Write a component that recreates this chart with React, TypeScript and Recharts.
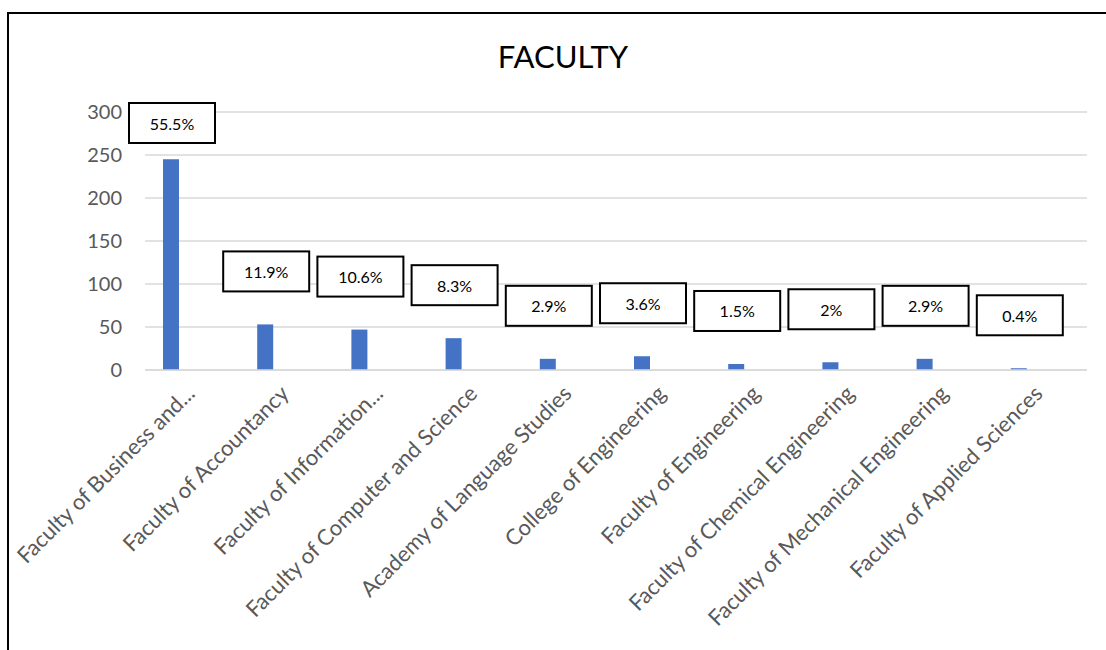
import React from 'react';
import { BarChart, Bar, XAxis, YAxis, CartesianGrid, LabelList } from 'recharts';

// Faculty names as shown on the axis (Excel truncated two of them)
const faculties = [
  'Faculty of Business and...',
  'Faculty of Accountancy',
  'Faculty of Information...',
  'Faculty of Computer and Science',
  'Academy of Language Studies',
  'College of Engineering',
  'Faculty of Engineering',
  'Faculty of Chemical Engineering',
  'Faculty of Mechanical Engineering',
  'Faculty of Applied Sciences',
];

// respondent counts
const counts = [245, 53, 47, 37, 13, 16, 7, 9, 13, 2];

// share labels printed in the boxes
const shares = ['55.5%', '11.9%', '10.6%', '8.3%', '2.9%', '3.6%', '1.5%', '2%', '2.9%', '0.4%'];

const yTicks = [0, 50, 100, 150, 200, 250, 300];

const data = faculties.map((name, i) => ({ name, count: counts[i], share: shares[i] }));

const PLOT_TOP = 112;
const FONT = 'Lato, "Open Sans", sans-serif';

// rotated category label, anchored at its end like Excel does
const AngledTick = (props: any) => {
  const { x, y, payload } = props;
  return (
    <g transform={`translate(${x + 25},${y + 17})`}>
      <text
        transform="rotate(-45)"
        textAnchor="end"
        fill="#595959"
        fontSize={22}
        fontFamily={FONT}
      >
        {payload.value}
      </text>
    </g>
  );
};

// boxed percentage sitting above each bar
const ShareBox = (props: any) => {
  const { x, y, width, value } = props;
  const w = 86;
  const h = 40;
  const cx = x + width / 2 + 1;
  const top = Math.max(PLOT_TOP - 9, y - 33 - h);
  return (
    <g>
      <rect x={cx - w / 2} y={top} width={w} height={h} fill="#fff" stroke="#000" strokeWidth={2} />
      <text
        x={cx}
        y={top + h / 2}
        textAnchor="middle"
        dominantBaseline="central"
        fontSize={16}
        fontFamily={FONT}
        fill="#000"
      >
        {value}
      </text>
    </g>
  );
};

export default function App() {
  return (
    <div style={{ position: 'fixed', left: 0, top: 0, width: 1106, height: 650, overflow: 'hidden', background: '#fff' }}>
      {/* chart frame, only left and top edges fall inside the picture */}
      <div
        style={{
          position: 'absolute',
          left: 7,
          top: 12,
          width: 1200,
          height: 800,
          border: '2px solid #000',
        }}
      />
      <div
        style={{
          position: 'absolute',
          left: 0,
          width: 1126,
          top: 37,
          textAlign: 'center',
          fontFamily: FONT,
          fontSize: 31,
          color: '#000',
        }}
      >
        FACULTY
      </div>
      <div style={{ position: 'absolute', left: 0, top: 0 }}>
        <BarChart
          width={1106}
          height={650}
          data={data}
          margin={{ top: PLOT_TOP, right: 19, bottom: 0, left: 0 }}
        >
          <CartesianGrid vertical={false} stroke="#d9d9d9" strokeWidth={1.5} />
          <XAxis
            dataKey="name"
            interval={0}
            tickLine={false}
            axisLine={{ stroke: '#d9d9d9', strokeWidth: 1.5 }}
            tick={<AngledTick />}
            height={280}
            padding={{ left: -21, right: 21 }}
          />
          <YAxis
            width={145}
            domain={[0, 300]}
            ticks={yTicks}
            axisLine={false}
            tickLine={false}
            tickSize={0}
            tickMargin={23}
            tick={{ fill: '#595959', fontSize: 20, fontFamily: FONT }}
          />
          <Bar dataKey="count" fill="#4472C4" barSize={16} isAnimationActive={false}>
            <LabelList dataKey="share" content={<ShareBox />} />
          </Bar>
        </BarChart>
      </div>
    </div>
  );
}
